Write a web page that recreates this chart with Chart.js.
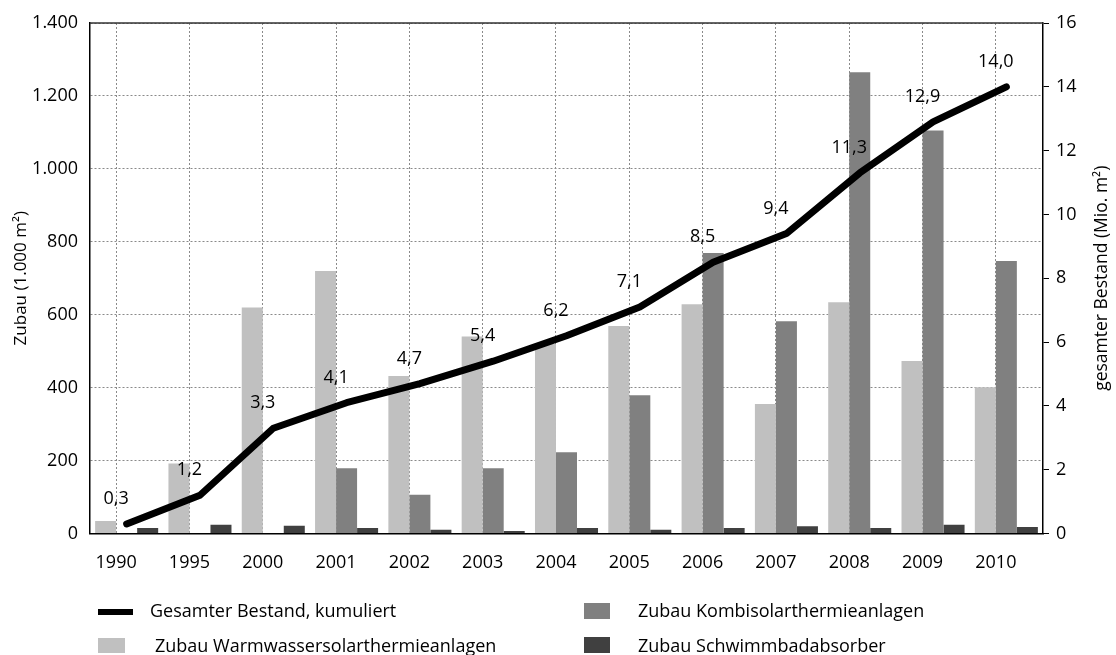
<!DOCTYPE html>
<html>
<head>
<meta charset="utf-8">
<script src="https://cdn.jsdelivr.net/npm/chart.js@4.4.1/dist/chart.umd.min.js"></script>
<style>
  html, body { margin: 0; padding: 0; background: #fff; }
  #wrap { position: relative; width: 1116px; height: 655px; font-family: "Open Sans", sans-serif; color: #000; }
  #c { position: absolute; left: 0; top: 0; }
  .lg { position: absolute; display: flex; align-items: center; font-size: 18px; white-space: nowrap; }
  .mk { position: absolute; }
</style>
</head>
<body>
<div id="wrap">
  <canvas id="c" width="1116" height="655"></canvas>
</div>
<script>
// ---- data ----
const categories = ['1990','1995','2000','2001','2002','2003','2004','2005','2006','2007','2008','2009','2010'];
const warmwasser = [34, 192, 620, 720, 432, 540, 520, 569, 629, 355, 634, 473, 401];
const kombi      = [0, 0, 0, 179, 106, 179, 223, 379, 769, 582, 1265, 1105, 747];
const schwimmbad = [15, 24, 21, 15, 10, 7, 15, 10, 15, 20, 15, 24, 18];
const bestand    = [0.3, 1.2, 3.3, 4.1, 4.7, 5.4, 6.2, 7.1, 8.5, 9.4, 11.3, 12.9, 14.0];
const leftTicks  = [0, 200, 400, 600, 800, 1000, 1200, 1400];
const rightTicks = [0, 2, 4, 6, 8, 10, 12, 14, 16];
const seriesNames = {
  bestand: 'Gesamter Bestand, kumuliert',
  kombi: 'Zubau Kombisolarthermieanlagen',
  warm: 'Zubau Warmwassersolarthermieanlagen',
  schwimm: 'Zubau Schwimmbadabsorber'
};
const leftTitle = 'Zubau (1.000 m²)';
const rightTitle = 'gesamter Bestand (Mio. m²)';

// ---- style ----
const FONT = '"Open Sans", sans-serif';
const TICK_SIZE = 18;
const TEXT = '#000';
const catPct = 0.86;
const gridShift = catPct / 6;  // gridlines sit between first and second bar of a group
const gridColor = '#8a8a8a';

function fmtThousands(v) {
  return String(v).replace(/\B(?=(\d{3})+(?!\d))/g, '.');
}
function fmtDec(v) { return v.toFixed(1).replace('.', ','); }

const extras = {
  id: 'extras',
  beforeDatasetsDraw(chart) {
    const { ctx, chartArea: a } = chart;
    ctx.save();
    ctx.strokeStyle = '#333';
    ctx.lineWidth = 1.5;
    ctx.beginPath();
    ctx.moveTo(a.left, a.top);
    ctx.lineTo(a.right, a.top);
    ctx.stroke();
    ctx.restore();
  },
  afterDatasetsDraw(chart) {
    const { ctx, chartArea: a } = chart;
    const xg = chart.scales.xg;
    const meta = chart.getDatasetMeta(0);
    ctx.save();
    ctx.font = '18px ' + FONT;
    ctx.fillStyle = TEXT;
    ctx.textAlign = 'center';
    ctx.textBaseline = 'middle';
    meta.data.forEach((pt, i) => {
      ctx.fillText(fmtDec(bestand[i]), xg.getPixelForValue(i), pt.y - 25);
    });
    // right axis title, reading bottom-to-top
    ctx.font = '17.5px ' + FONT;
    ctx.translate(chart.width - 14, (a.top + a.bottom) / 2);
    ctx.rotate(-Math.PI / 2);
    ctx.fillText(rightTitle, 0, 0);
    ctx.restore();
  }
};

const chart = new Chart(document.getElementById('c'), {
  data: {
    labels: categories,
    datasets: [
      { type: 'line', label: seriesNames.bestand, data: bestand, yAxisID: 'y1', xAxisID: 'x',
        borderColor: '#000', backgroundColor: '#000', borderWidth: 7, pointRadius: 0,
        borderCapStyle: 'round', borderJoinStyle: 'round', tension: 0, order: 0 },
      { type: 'bar', label: seriesNames.warm, data: warmwasser, yAxisID: 'y', xAxisID: 'x',
        backgroundColor: '#c0c0c0', categoryPercentage: catPct, barPercentage: 1, order: 1 },
      { type: 'bar', label: seriesNames.kombi, data: kombi, yAxisID: 'y', xAxisID: 'x',
        backgroundColor: '#808080', categoryPercentage: catPct, barPercentage: 1, order: 1 },
      { type: 'bar', label: seriesNames.schwimm, data: schwimmbad, yAxisID: 'y', xAxisID: 'x',
        backgroundColor: '#404040', categoryPercentage: catPct, barPercentage: 1, order: 1 }
    ]
  },
  options: {
    responsive: false,
    animation: false,
    layout: { padding: { top: 23, left: 0, right: 0, bottom: 0 } },
    plugins: { legend: { display: false }, tooltip: { enabled: false } },
    scales: {
      x: { type: 'category', display: false, offset: true },
      xg: {
        type: 'linear', position: 'bottom',
        min: -0.5 + gridShift, max: categories.length - 0.5 + gridShift,
        afterBuildTicks: s => { s.ticks = categories.map((_, i) => ({ value: i })); },
        afterFit: s => { s.height = 655 - 533.5; },
        grid: { display: true, drawOnChartArea: true, drawTicks: false, color: gridColor, lineWidth: 1 },
        border: { display: true, color: '#000', width: 1.5, dash: [2, 2] },
        ticks: { padding: 19, color: TEXT, font: { family: FONT, size: TICK_SIZE },
          callback: v => categories[v], maxRotation: 0, autoSkip: false }
      },
      y: {
        position: 'left', min: 0, max: 1400,
        afterBuildTicks: s => { s.ticks = leftTicks.map(v => ({ value: v })); },
        afterFit: s => { s.width = 90; },
        grid: { drawTicks: false, color: gridColor, lineWidth: 1 },
        border: { display: true, color: '#000', width: 1.5, dash: [2, 2] },
        ticks: { padding: 12, color: TEXT, font: { family: FONT, size: TICK_SIZE }, callback: v => fmtThousands(v) },
        title: { display: true, text: leftTitle, color: TEXT, font: { family: FONT, size: 17 }, padding: { top: 11, bottom: 0 } }
      },
      y1: {
        position: 'right', min: 0, max: 16,
        afterBuildTicks: s => { s.ticks = rightTicks.map(v => ({ value: v })); },
        afterFit: s => { s.width = 1116 - 1043; },
        grid: { drawOnChartArea: false, drawTicks: true, tickLength: 6, color: '#000', lineWidth: 1 },
        border: { display: true, color: '#000', width: 1.5 },
        ticks: { padding: 7, color: TEXT, font: { family: FONT, size: TICK_SIZE } }
      }
    }
  },
  plugins: [extras]
});

// ---- legend (HTML, built from the chart datasets) ----
const legendLayout = [
  { ds: 0, mk: [98, 609, 35, 6],  tx: [150, 610] },
  { ds: 2, mk: [584, 603, 26, 16], tx: [638, 610] },
  { ds: 1, mk: [98, 638, 27, 15], tx: [155, 645] },
  { ds: 3, mk: [584, 637, 26, 16], tx: [638, 645] }
];
const wrap = document.getElementById('wrap');
legendLayout.forEach(it => {
  const ds = chart.data.datasets[it.ds];
  const m = document.createElement('div');
  m.className = 'mk';
  m.style.cssText = `left:${it.mk[0]}px;top:${it.mk[1]}px;width:${it.mk[2]}px;height:${it.mk[3]}px;background:${ds.backgroundColor};`;
  wrap.appendChild(m);
  const t = document.createElement('div');
  t.className = 'lg';
  t.style.cssText = `left:${it.tx[0]}px;top:${it.tx[1] - 13}px;height:26px;`;
  t.textContent = ds.label;
  wrap.appendChild(t);
});
</script>
</body>
</html>
